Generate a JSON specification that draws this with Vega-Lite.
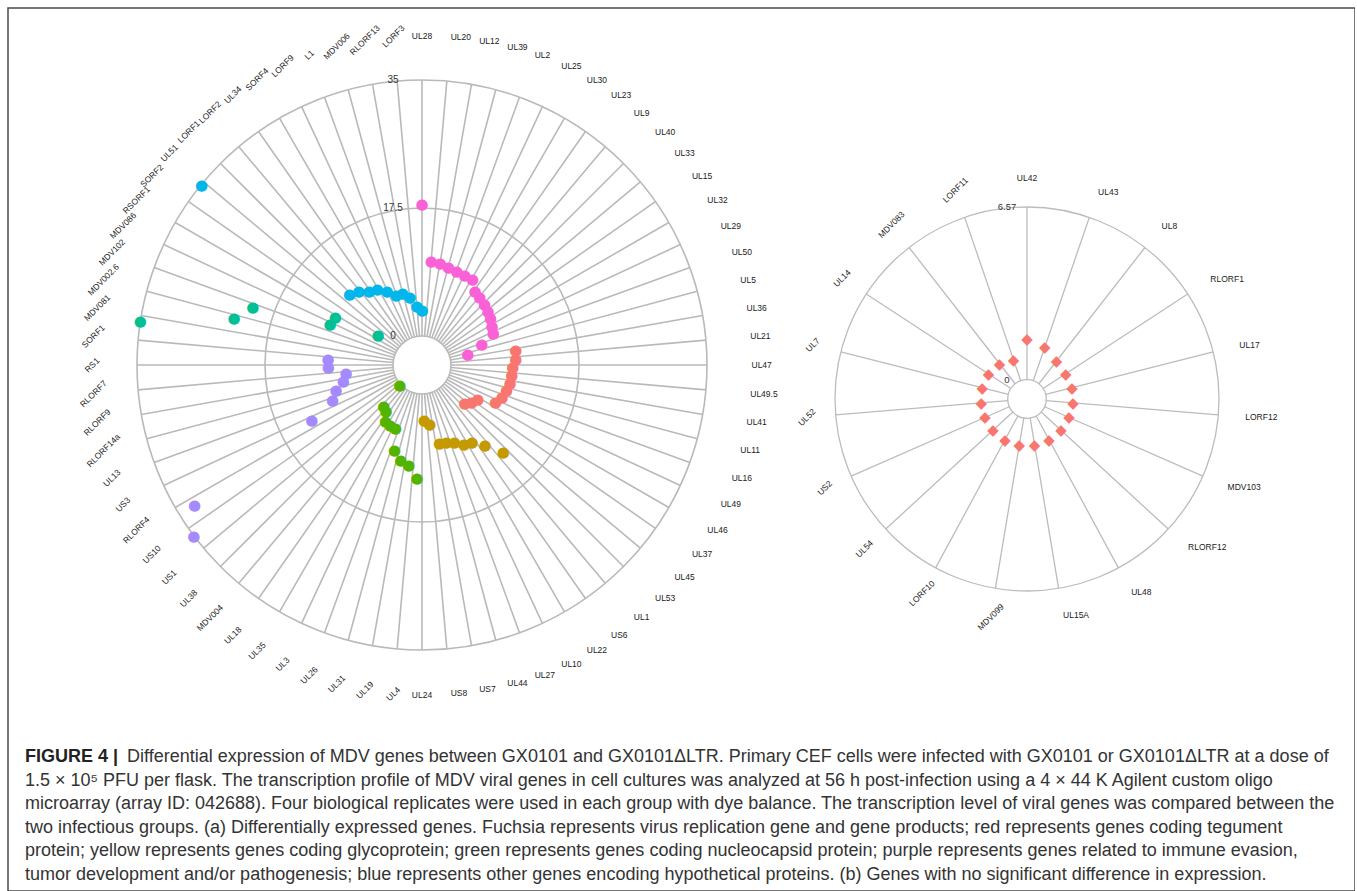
{
  "$schema": "https://vega.github.io/schema/vega-lite/v6.json",
  "width": 1347,
  "height": 883,
  "padding": {"left": 8, "top": 8, "right": 0, "bottom": 0},
  "autosize": {"type": "none"},
  "background": "white",
  "config": {
    "view": {"stroke": "#4a4a4a", "strokeWidth": 1.5},
    "text": {"font": "Liberation Sans"}
  },
  "datasets": {
    "genesA": [
      {"idx": 0, "gene": "UL28", "value": 18.1, "group": "replication"},
      {"idx": 1, "gene": "UL20", "value": 10.3, "group": "replication"},
      {"idx": 2, "gene": "UL12", "value": 10.2, "group": "replication"},
      {"idx": 3, "gene": "UL39", "value": 9.9, "group": "replication"},
      {"idx": 4, "gene": "UL2", "value": 9.8, "group": "replication"},
      {"idx": 5, "gene": "UL25", "value": 9.7, "group": "replication"},
      {"idx": 6, "gene": "UL30", "value": 9.65, "group": "replication"},
      {"idx": 7, "gene": "UL23", "value": 8.5, "group": "replication"},
      {"idx": 8, "gene": "UL9", "value": 8.2, "group": "replication"},
      {"idx": 9, "gene": "UL40", "value": 8.0, "group": "replication"},
      {"idx": 10, "gene": "UL33", "value": 7.7, "group": "replication"},
      {"idx": 11, "gene": "UL15", "value": 7.35, "group": "replication"},
      {"idx": 12, "gene": "UL32", "value": 7.0, "group": "replication"},
      {"idx": 13, "gene": "UL29", "value": 6.7, "group": "replication"},
      {"idx": 14, "gene": "UL50", "value": 4.7, "group": "replication"},
      {"idx": 15, "gene": "UL5", "value": 2.5, "group": "replication"},
      {"idx": 16, "gene": "UL36", "value": 9.0, "group": "tegument"},
      {"idx": 17, "gene": "UL21", "value": 8.9, "group": "tegument"},
      {"idx": 18, "gene": "UL47", "value": 8.45, "group": "tegument"},
      {"idx": 19, "gene": "UL49.5", "value": 8.4, "group": "tegument"},
      {"idx": 20, "gene": "UL41", "value": 8.3, "group": "tegument"},
      {"idx": 21, "gene": "UL11", "value": 8.1, "group": "tegument"},
      {"idx": 22, "gene": "UL16", "value": 7.8, "group": "tegument"},
      {"idx": 23, "gene": "UL49", "value": 7.3, "group": "tegument"},
      {"idx": 24, "gene": "UL46", "value": 5.0, "group": "tegument"},
      {"idx": 25, "gene": "UL37", "value": 4.5, "group": "tegument"},
      {"idx": 26, "gene": "UL45", "value": 3.9, "group": "tegument"},
      {"idx": 27, "gene": "UL53", "value": 12.3, "group": "glycoprotein"},
      {"idx": 28, "gene": "UL1", "value": 10.0, "group": "glycoprotein"},
      {"idx": 29, "gene": "US6", "value": 8.6, "group": "glycoprotein"},
      {"idx": 30, "gene": "UL22", "value": 8.3, "group": "glycoprotein"},
      {"idx": 31, "gene": "UL10", "value": 7.5, "group": "glycoprotein"},
      {"idx": 32, "gene": "UL27", "value": 7.1, "group": "glycoprotein"},
      {"idx": 33, "gene": "UL44", "value": 6.9, "group": "glycoprotein"},
      {"idx": 34, "gene": "US7", "value": 4.2, "group": "glycoprotein"},
      {"idx": 35, "gene": "US8", "value": 3.5, "group": "glycoprotein"},
      {"idx": 36, "gene": "UL24", "value": 11.5, "group": "nucleocapsid"},
      {"idx": 37, "gene": "UL4", "value": 9.8, "group": "nucleocapsid"},
      {"idx": 38, "gene": "UL19", "value": 9.3, "group": "nucleocapsid"},
      {"idx": 39, "gene": "UL31", "value": 8.3, "group": "nucleocapsid"},
      {"idx": 40, "gene": "UL26", "value": 5.4, "group": "nucleocapsid"},
      {"idx": 41, "gene": "UL3", "value": 5.3, "group": "nucleocapsid"},
      {"idx": 42, "gene": "UL35", "value": 5.2, "group": "nucleocapsid"},
      {"idx": 43, "gene": "UL18", "value": 4.0, "group": "nucleocapsid"},
      {"idx": 44, "gene": "MDV004", "value": 3.7, "group": "nucleocapsid"},
      {"idx": 45, "gene": "UL38", "value": 0.1, "group": "nucleocapsid"},
      {"idx": 46, "gene": "US1", "value": 35.0, "group": "immune"},
      {"idx": 47, "gene": "US10", "value": 32.6, "group": "immune"},
      {"idx": 48, "gene": "RLORF4", "value": 12.9, "group": "immune"},
      {"idx": 49, "gene": "US3", "value": 9.2, "group": "immune"},
      {"idx": 50, "gene": "UL13", "value": 8.3, "group": "immune"},
      {"idx": 51, "gene": "RLORF14a", "value": 7.0, "group": "immune"},
      {"idx": 52, "gene": "RLORF9", "value": 6.5, "group": "immune"},
      {"idx": 53, "gene": "RLORF7", "value": 8.85, "group": "immune"},
      {"idx": 54, "gene": "RS1", "value": 8.9, "group": "immune"},
      {"idx": 55, "gene": "SORF1", "value": 35.0, "group": "unclassified"},
      {"idx": 56, "gene": "MDV081", "value": 22.5, "group": "unclassified"},
      {"idx": 57, "gene": "MDV002.6", "value": 20.5, "group": "unclassified"},
      {"idx": 58, "gene": "MDV102", "value": 9.8, "group": "unclassified"},
      {"idx": 59, "gene": "MDV086", "value": 9.6, "group": "unclassified"},
      {"idx": 60, "gene": "RSORF1", "value": 3.3, "group": "unclassified"},
      {"idx": 61, "gene": "SORF2", "value": 35.0, "group": "hypothetical"},
      {"idx": 62, "gene": "UL51", "value": 9.9, "group": "hypothetical"},
      {"idx": 63, "gene": "LORF1", "value": 9.3, "group": "hypothetical"},
      {"idx": 64, "gene": "LORF2", "value": 8.5, "group": "hypothetical"},
      {"idx": 65, "gene": "UL34", "value": 8.1, "group": "hypothetical"},
      {"idx": 66, "gene": "SORF4", "value": 7.2, "group": "hypothetical"},
      {"idx": 67, "gene": "LORF9", "value": 6.25, "group": "hypothetical"},
      {"idx": 68, "gene": "L1", "value": 6.2, "group": "hypothetical"},
      {"idx": 69, "gene": "MDV006", "value": 5.5, "group": "hypothetical"},
      {"idx": 70, "gene": "RLORF13", "value": 4.1, "group": "hypothetical"},
      {"idx": 71, "gene": "LORF3", "value": 3.55, "group": "hypothetical"}
    ],
    "genesB": [
      {"idx": 0, "gene": "UL42", "value": 1.56},
      {"idx": 1, "gene": "UL43", "value": 1.36},
      {"idx": 2, "gene": "UL8", "value": 1.1},
      {"idx": 3, "gene": "RLORF1", "value": 1.03},
      {"idx": 4, "gene": "UL17", "value": 1.03},
      {"idx": 5, "gene": "LORF12", "value": 1.02},
      {"idx": 6, "gene": "MDV103", "value": 1.01},
      {"idx": 7, "gene": "RLORF12", "value": 1.02},
      {"idx": 8, "gene": "UL48", "value": 1.02},
      {"idx": 9, "gene": "UL15A", "value": 1.03},
      {"idx": 10, "gene": "MDV099", "value": 1.03},
      {"idx": 11, "gene": "LORF10", "value": 1.02},
      {"idx": 12, "gene": "UL54", "value": 1.02},
      {"idx": 13, "gene": "US2", "value": 1.01},
      {"idx": 14, "gene": "UL52", "value": 1.01},
      {"idx": 15, "gene": "UL7", "value": 1.02},
      {"idx": 16, "gene": "UL14", "value": 1.01},
      {"idx": 17, "gene": "MDV083", "value": 0.97},
      {"idx": 18, "gene": "LORF11", "value": 0.85}
    ],
    "ringsA": [{"v": 0}, {"v": 17.5}, {"v": 35}],
    "ringsB": [{"v": 0}, {"v": 6.57}],
    "caption": [
      {"line": 1, "part": "head", "text": "FIGURE 4 |"},
      {"line": 1, "part": "first", "text": "Differential expression of MDV genes between GX0101 and GX0101ΔLTR. Primary CEF cells were infected with GX0101 or GX0101ΔLTR at a dose of"},
      {"line": 2, "part": "body", "text": "1.5 × 10⁵ PFU per flask. The transcription profile of MDV viral genes in cell cultures was analyzed at 56 h post-infection using a 4 × 44 K Agilent custom oligo"},
      {"line": 3, "part": "body", "text": "microarray (array ID: 042688). Four biological replicates were used in each group with dye balance. The transcription level of viral genes was compared between the"},
      {"line": 4, "part": "body", "text": "two infectious groups. (a) Differentially expressed genes. Fuchsia represents virus replication gene and gene products; red represents genes coding tegument"},
      {"line": 5, "part": "body", "text": "protein; yellow represents genes coding glycoprotein; green represents genes coding nucleocapsid protein; purple represents genes related to immune evasion,"},
      {"line": 6, "part": "body", "text": "tumor development and/or pathogenesis; blue represents other genes encoding hypothetical proteins. (b) Genes with no significant difference in expression."}
    ]
  },
  "layer": [
    {
      "encoding": {
        "x": {"datum": "a", "type": "nominal", "scale": {"type": "point", "domain": ["a", "b"], "range": [414, 1019], "padding": 0}, "axis": null},
        "y": {"datum": "a", "type": "nominal", "scale": {"type": "point", "domain": ["a", "b"], "range": [357, 391], "padding": 0}, "axis": null}
      },
      "layer": [
        {
          "data": {"name": "genesA"},
          "mark": {"type": "arc", "filled": false, "stroke": "#b9b9b9", "strokeWidth": 1.6},
          "encoding": {
            "theta": {"field": "idx", "type": "quantitative", "scale": {"type": "linear", "domain": [0, 72], "range": [0, 6.283185307179586]}},
            "theta2": {"field": "idx"},
            "radius": {"datum": 0, "type": "quantitative", "scale": {"type": "linear", "domain": [0, 35], "range": [29, 285], "zero": false}},
            "radius2": {"datum": 35}
          }
        },
        {
          "data": {"name": "ringsA"},
          "mark": {"type": "arc", "filled": false, "stroke": "#b9b9b9", "strokeWidth": 1.6, "theta": 0, "theta2": 6.2831853},
          "encoding": {
            "radius": {"field": "v", "type": "quantitative", "scale": {"type": "linear", "domain": [0, 35], "range": [29, 285], "zero": false}},
            "radius2": {"field": "v"}
          }
        },
        {
          "data": {"name": "ringsA"},
          "mark": {"type": "text", "align": "center", "baseline": "middle", "fontSize": 10, "fill": "#333333", "dx": -29},
          "encoding": {
            "theta": {"value": 0},
            "radius": {"field": "v", "type": "quantitative", "scale": {"type": "linear", "domain": [0, 35], "range": [29, 285], "zero": false}},
            "text": {"field": "v", "type": "quantitative"}
          }
        },
        {
          "data": {"name": "genesA"},
          "transform": [{"filter": "datum.idx == 0 || datum.idx == 36"}],
          "mark": {"type": "text", "align": "center", "baseline": "middle", "fontSize": 8.5, "fill": "#1a1a1a"},
          "encoding": {
            "theta": {"field": "idx", "type": "quantitative", "scale": {"type": "linear", "domain": [0, 72], "range": [0, 6.283185307179586]}},
            "radius": {"value": 329.5},
            "text": {"field": "gene"}
          }
        },
        {
          "data": {"name": "genesA"},
          "transform": [{"filter": "datum.idx >= 1 && datum.idx <= 35"}],
          "mark": {"type": "text", "align": "left", "baseline": "middle", "fontSize": 8.5, "fill": "#1a1a1a"},
          "encoding": {
            "theta": {"field": "idx", "type": "quantitative", "scale": {"type": "linear", "domain": [0, 72], "range": [0, 6.283185307179586]}},
            "radius": {"value": 329.5},
            "text": {"field": "gene"}
          }
        },
        {
          "data": {"name": "genesA"},
          "transform": [{"filter": "datum.idx > 36"}],
          "mark": {"type": "text", "align": "center", "baseline": "middle", "fontSize": 8.5, "fill": "#1a1a1a", "angle": 315},
          "encoding": {
            "theta": {"field": "idx", "type": "quantitative", "scale": {"type": "linear", "domain": [0, 72], "range": [0, 6.283185307179586]}},
            "radius": {"value": 330},
            "text": {"field": "gene"}
          }
        },
        {
          "data": {"name": "genesA"},
          "mark": {"type": "text", "text": "●", "font": "DejaVu Sans", "fontSize": 15, "align": "center", "baseline": "middle"},
          "encoding": {
            "theta": {"field": "idx", "type": "quantitative", "scale": {"type": "linear", "domain": [0, 71], "range": [0, 6.283185307179586]}},
            "radius": {"field": "value", "type": "quantitative", "scale": {"type": "linear", "domain": [0, 35], "range": [29, 285], "zero": false}},
            "color": {"field": "group", "type": "nominal", "legend": null, "scale": {"domain": ["tegument", "glycoprotein", "nucleocapsid", "unclassified", "hypothetical", "immune", "replication"], "range": ["#F8766D", "#C49A00", "#53B400", "#00C094", "#00B6EB", "#A58AFF", "#FB61D7"]}}
          }
        }
      ],
      "resolve": {"scale": {"theta": "independent"}}
    },
    {
      "encoding": {
        "x": {"datum": "b", "type": "nominal", "scale": {"type": "point", "domain": ["a", "b"], "range": [414, 1019], "padding": 0}, "axis": null},
        "y": {"datum": "b", "type": "nominal", "scale": {"type": "point", "domain": ["a", "b"], "range": [357, 391], "padding": 0}, "axis": null}
      },
      "layer": [
        {
          "data": {"name": "genesB"},
          "mark": {"type": "arc", "filled": false, "stroke": "#bcbcbc", "strokeWidth": 1.3},
          "encoding": {
            "theta": {"field": "idx", "type": "quantitative", "scale": {"type": "linear", "domain": [0, 19], "range": [0, 6.283185307179586]}},
            "theta2": {"field": "idx"},
            "radius": {"datum": 0, "type": "quantitative", "scale": {"type": "linear", "domain": [0, 6.57], "range": [19.3, 192], "zero": false}},
            "radius2": {"datum": 6.57}
          }
        },
        {
          "data": {"name": "ringsB"},
          "mark": {"type": "arc", "filled": false, "stroke": "#bcbcbc", "strokeWidth": 1.3, "theta": 0, "theta2": 6.2831853},
          "encoding": {
            "radius": {"field": "v", "type": "quantitative", "scale": {"type": "linear", "domain": [0, 6.57], "range": [19.3, 192], "zero": false}},
            "radius2": {"field": "v"}
          }
        },
        {
          "data": {"name": "ringsB"},
          "mark": {"type": "text", "align": "center", "baseline": "middle", "fontSize": 9.5, "fill": "#333333", "dx": -20},
          "encoding": {
            "theta": {"value": 0},
            "radius": {"field": "v", "type": "quantitative", "scale": {"type": "linear", "domain": [0, 6.57], "range": [19.3, 192], "zero": false}},
            "text": {"field": "v", "type": "quantitative"}
          }
        },
        {
          "data": {"name": "genesB"},
          "transform": [{"filter": "datum.idx == 0"}],
          "mark": {"type": "text", "align": "center", "baseline": "middle", "fontSize": 8.5, "fill": "#1a1a1a"},
          "encoding": {
            "theta": {"field": "idx", "type": "quantitative", "scale": {"type": "linear", "domain": [0, 19], "range": [0, 6.283185307179586]}},
            "radius": {"value": 221},
            "text": {"field": "gene"}
          }
        },
        {
          "data": {"name": "genesB"},
          "transform": [{"filter": "datum.idx >= 1 && datum.idx <= 9"}],
          "mark": {"type": "text", "align": "left", "baseline": "middle", "fontSize": 8.5, "fill": "#1a1a1a"},
          "encoding": {
            "theta": {"field": "idx", "type": "quantitative", "scale": {"type": "linear", "domain": [0, 19], "range": [0, 6.283185307179586]}},
            "radius": {"value": 219},
            "text": {"field": "gene"}
          }
        },
        {
          "data": {"name": "genesB"},
          "transform": [{"filter": "datum.idx > 9"}],
          "mark": {"type": "text", "align": "center", "baseline": "middle", "fontSize": 8.5, "fill": "#1a1a1a", "angle": 315},
          "encoding": {
            "theta": {"field": "idx", "type": "quantitative", "scale": {"type": "linear", "domain": [0, 19], "range": [0, 6.283185307179586]}},
            "radius": {"value": 221},
            "text": {"field": "gene"}
          }
        },
        {
          "data": {"name": "genesB"},
          "mark": {"type": "text", "text": "◆", "font": "DejaVu Sans", "fontSize": 15, "align": "center", "baseline": "middle", "fill": "#F8766D"},
          "encoding": {
            "theta": {"field": "idx", "type": "quantitative", "scale": {"type": "linear", "domain": [0, 19], "range": [0, 6.283185307179586]}},
            "radius": {"field": "value", "type": "quantitative", "scale": {"type": "linear", "domain": [0, 6.57], "range": [19.3, 192], "zero": false}}
          }
        }
      ]
    },
    {
      "data": {"name": "caption"},
      "encoding": {
        "y": {"field": "line", "type": "ordinal", "scale": {"type": "point", "domain": [1, 2, 3, 4, 5, 6], "range": [749, 867], "padding": 0}, "axis": null},
        "text": {"field": "text"}
      },
      "layer": [
        {
          "transform": [{"filter": "datum.part == 'head'"}],
          "mark": {"type": "text", "align": "left", "baseline": "middle", "fontSize": 18, "fontWeight": "bold", "fill": "#222222", "x": 17}
        },
        {
          "transform": [{"filter": "datum.part == 'first'"}],
          "mark": {"type": "text", "align": "left", "baseline": "middle", "fontSize": 18, "fill": "#333333", "x": 17, "dx": 102}
        },
        {
          "transform": [{"filter": "datum.part == 'body'"}],
          "mark": {"type": "text", "align": "left", "baseline": "middle", "fontSize": 18, "fill": "#333333", "x": 17}
        }
      ]
    }
  ],
  "resolve": {"scale": {"x": "independent", "y": "independent", "radius": "independent", "theta": "independent", "color": "independent"}}
}
